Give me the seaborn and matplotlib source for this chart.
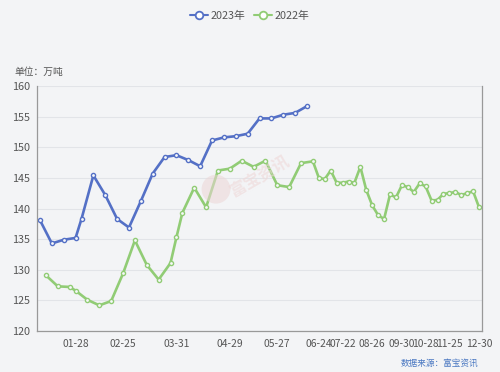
import pandas as pd
import pylab as pl
import seaborn as sns
from matplotlib.lines import Line2D

# 2023 weekly output (万吨)
dates_2023 = ['01-06', '01-13', '01-20', '01-28', '02-03', '02-10', '02-17', '02-24',
              '03-03', '03-10', '03-17', '03-24', '03-31', '04-07', '04-14', '04-21',
              '04-28', '05-05', '05-12', '05-19', '05-26', '06-02', '06-09', '06-16']
values_2023 = [138.1, 134.3, 134.9, 135.2, 138.3, 145.4, 142.2, 138.3,
               136.9, 141.2, 145.7, 148.4, 148.7, 147.9, 146.9, 151.1,
               151.6, 151.8, 152.2, 154.7, 154.7, 155.3, 155.6, 156.7]

# 2022 weekly output (万吨)
dates_2022 = ['01-07', '01-14', '01-21', '01-28', '02-04', '02-11', '02-18', '02-25',
              '03-04', '03-11', '03-18', '03-25', '03-31', '04-02', '04-08', '04-15',
              '04-22', '04-29', '05-06', '05-13', '05-20', '05-27', '06-03', '06-10',
              '06-17', '06-24', '07-01', '07-08', '07-15', '07-22', '07-29', '08-05',
              '08-12', '08-19', '08-26', '09-02', '09-09', '09-16', '09-23', '09-30',
              '10-08', '10-14', '10-21', '10-28', '11-04', '11-11', '11-18', '11-25',
              '12-02', '12-09', '12-16', '12-23', '12-30']
values_2022 = [129.1, 127.3, 127.2, 126.6, 125.1, 124.2, 124.9, 129.4,
               134.8, 130.8, 128.4, 131.1, 135.3, 139.3, 143.4, 140.2,
               146.2, 146.5, 147.8, 146.8, 147.8, 143.8, 143.5, 147.4,
               147.7, 145.0, 144.8, 146.2, 144.2, 144.2, 144.4, 144.2,
               146.8, 143.0, 140.5, 138.9, 138.3, 142.3, 141.8, 143.8,
               143.5, 142.7, 144.1, 143.6, 141.3, 141.4, 142.4, 142.5,
               142.7, 142.2, 142.5, 142.8, 140.2]

tick_labels = ['01-28', '02-25', '03-31', '04-29', '05-27', '06-24',
               '07-22', '08-26', '09-30', '10-28', '11-25', '12-30']

BG = '#f3f4f6'
BLUE = '#5470c6'
GREEN = '#91cc75'

if __name__ == '__main__':
    # category axis = union of both years' dates
    categories = sorted(set(dates_2023) | set(dates_2022))
    pos = {d: i for i, d in enumerate(categories)}

    df = pd.concat([
        pd.DataFrame({'date': dates_2023, 'value': values_2023, 'series': '2023年'}),
        pd.DataFrame({'date': dates_2022, 'value': values_2022, 'series': '2022年'}),
    ])
    df['pos'] = df.date.map(pos)

    pl.close('all')
    sns.set_style('white')
    pl.rcParams['font.family'] = ['Noto Sans CJK SC', 'DejaVu Sans']

    fig = pl.figure(figsize=(5, 3.72), dpi=100, facecolor=BG)
    ax = fig.add_axes([0.074, 0.110, 0.89, 0.659])
    ax.set_facecolor(BG)

    sns.lineplot(data=df, x='pos', y='value', hue='series', palette={'2023年': BLUE, '2022年': GREEN},
                 marker='o', markersize=3.0, linewidth=1.9, sort=False, legend=False, ax=ax)
    for line in ax.lines:
        line.set_markerfacecolor('#f7f8fa')
        line.set_markeredgecolor(line.get_color())
        line.set_markeredgewidth(1.0)

    ax.set_xlim(-0.5, len(categories) - 0.5)
    ax.set_ylim(120, 160)
    ax.set_yticks(range(120, 161, 5))
    ax.grid(axis='y', color='#e2e4e8', linewidth=0.8)
    ax.grid(axis='x', visible=False)

    label_pos = [pos[d] for d in tick_labels]
    ax.set_xticks(label_pos)
    ax.set_xticklabels(tick_labels)
    ax.set_xticks([p - 0.5 for p in label_pos], minor=True)
    ax.tick_params(axis='x', which='major', length=0, pad=6, labelsize=7.4, colors='#555555')
    ax.tick_params(axis='x', which='minor', length=4, width=0.8, color='#888888', direction='out')
    ax.tick_params(axis='y', length=0, pad=5, labelsize=7.8, colors='#555555')
    ax.set_xlabel('')
    ax.set_ylabel('')

    for side in ['left', 'bottom', 'right']:
        ax.spines[side].set_color('#999999')
        ax.spines[side].set_linewidth(0.9)
    ax.spines['top'].set_visible(False)

    handles = [Line2D([], [], color=c, marker='o', markersize=5.5, markerfacecolor='white',
                      markeredgewidth=1.3, linewidth=1.5) for c in [BLUE, GREEN]]
    fig.legend(handles, ['2023年', '2022年'], loc='center', bbox_to_anchor=(0.5, 0.958), ncol=2,
               frameon=False, fontsize=7.8, handlelength=1.6, handletextpad=0.3, columnspacing=0.8,
               labelcolor='#555555')

    fig.text(0.028, 0.806, '单位：万吨', fontsize=7, color='#555555', va='center', ha='left')
    fig.text(0.956, 0.022, '数据来源：富宝资讯', fontsize=6.2, color='#4a78c2', va='center', ha='right')

    # faint watermark
    fig.text(0.424, 0.478, '  ', fontsize=13, bbox=dict(boxstyle='circle', fc='#ecd6d6', ec='none', alpha=0.55))
    fig.text(0.52, 0.525, '富宝资讯', fontsize=12, color='#eed8d8', alpha=0.6, rotation=30,
             ha='center', va='center', fontweight='bold')

    pl.savefig('out.png', dpi=100, facecolor=BG)
